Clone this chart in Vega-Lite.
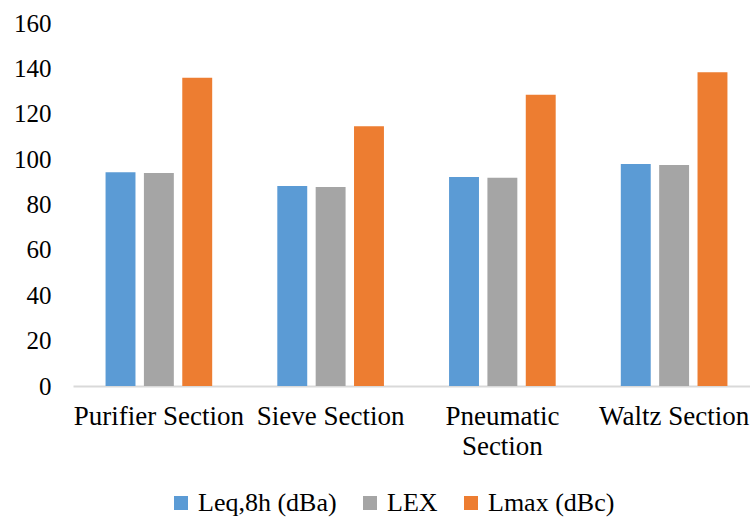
{
  "$schema": "https://vega.github.io/schema/vega-lite/v6.json",
  "width": 687,
  "height": 363,
  "padding": {"left": 73, "top": 23, "right": -10, "bottom": 132},
  "autosize": {"type": "none"},
  "background": "white",
  "config": {
    "view": {"stroke": null},
    "font": "Liberation Serif",
    "axis": {"labelFont": "Liberation Serif"},
    "legend": {"labelFont": "Liberation Serif"}
  },
  "data": {
    "values": [
      {"section": "Purifier Section", "metric": "Leq,8h (dBa)", "value": 94.2},
      {"section": "Purifier Section", "metric": "LEX", "value": 93.9},
      {"section": "Purifier Section", "metric": "Lmax (dBc)", "value": 135.9},
      {"section": "Sieve Section", "metric": "Leq,8h (dBa)", "value": 88.2},
      {"section": "Sieve Section", "metric": "LEX", "value": 87.7},
      {"section": "Sieve Section", "metric": "Lmax (dBc)", "value": 114.5},
      {"section": "Pneumatic Section", "metric": "Leq,8h (dBa)", "value": 92.1},
      {"section": "Pneumatic Section", "metric": "LEX", "value": 91.8},
      {"section": "Pneumatic Section", "metric": "Lmax (dBc)", "value": 128.4},
      {"section": "Waltz Section", "metric": "Leq,8h (dBa)", "value": 97.9},
      {"section": "Waltz Section", "metric": "LEX", "value": 97.4},
      {"section": "Waltz Section", "metric": "Lmax (dBc)", "value": 138.3}
    ]
  },
  "mark": {"type": "bar"},
  "encoding": {
    "x": {
      "field": "section",
      "type": "nominal",
      "sort": ["Purifier Section", "Sieve Section", "Pneumatic Section", "Waltz Section"],
      "scale": {"paddingInner": 0.33, "paddingOuter": 0.165},
      "axis": {
        "title": null,
        "labelAngle": 0,
        "labelFontSize": 27,
        "labelColor": "#000000",
        "labelPadding": 17,
        "labelLineHeight": 30,
        "labelExpr": "datum.value == 'Pneumatic Section' ? ['Pneumatic', 'Section'] : datum.value",
        "ticks": false,
        "domainColor": "#D9D9D9",
        "domainWidth": 2,
        "labelLimit": 300
      }
    },
    "xOffset": {
      "field": "metric",
      "type": "nominal",
      "sort": ["Leq,8h (dBa)", "LEX", "Lmax (dBc)"],
      "scale": {"paddingInner": 0.22, "paddingOuter": 0.11}
    },
    "y": {
      "field": "value",
      "type": "quantitative",
      "scale": {"domain": [0, 160]},
      "axis": {
        "title": null,
        "values": [0, 20, 40, 60, 80, 100, 120, 140, 160],
        "grid": false,
        "domain": false,
        "ticks": false,
        "labelFontSize": 25,
        "labelColor": "#000000",
        "labelPadding": 22
      }
    },
    "color": {
      "field": "metric",
      "type": "nominal",
      "sort": ["Leq,8h (dBa)", "LEX", "Lmax (dBc)"],
      "scale": {
        "domain": ["Leq,8h (dBa)", "LEX", "Lmax (dBc)"],
        "range": ["#5B9BD5", "#A5A5A5", "#ED7D31"]
      },
      "legend": {
        "title": null,
        "orient": "none",
        "direction": "horizontal",
        "legendX": 95,
        "legendY": 467,
        "symbolType": "square",
        "symbolSize": 196,
        "symbolStrokeWidth": 0,
        "symbolOpacity": 1,
        "labelFontSize": 26,
        "labelColor": "#000000",
        "labelOffset": 4,
        "columnPadding": 20,
        "labelLimit": 300
      }
    }
  }
}
